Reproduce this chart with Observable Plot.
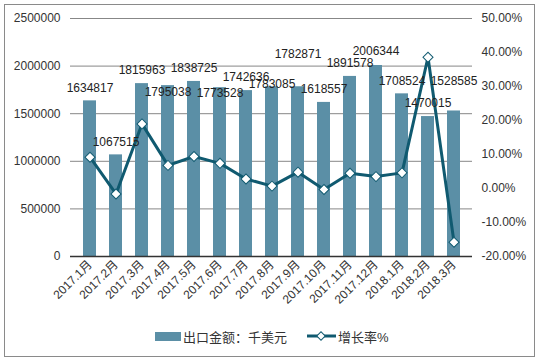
<!DOCTYPE html>
<html>
<head>
<meta charset="utf-8">
<script src="https://cdn.jsdelivr.net/npm/d3@7"></script>
<script src="https://cdn.jsdelivr.net/npm/@observablehq/plot@0.6"></script>
<style>
  html, body { margin: 0; padding: 0; background: #fff; }
  #wrap { position: relative; width: 538px; height: 363px; overflow: hidden; font-family: "Liberation Sans", Arial, "Noto Sans CJK SC", sans-serif; }
  #wrap > .layer { position: absolute; left: 0; top: 0; }
  #frame { position: absolute; left: 4px; top: 4px; width: 529px; height: 351px; border: 1.5px solid #8a8a8a; }
  #legend { position: absolute; left: 155px; top: 327px; height: 18px; display: flex; align-items: center; font-size: 13px; color: #333; font-family: "Liberation Sans", "Noto Sans CJK SC", sans-serif; }
  .sw { display: inline-block; width: 26px; height: 9px; background: #5b8fa6; margin-right: 2px; }
</style>
</head>
<body>
<div id="wrap">
  <div id="frame"></div>
</div>
<script>
// ---- data ----
const months = ["2017.1月","2017.2月","2017.3月","2017.4月","2017.5月","2017.6月","2017.7月","2017.8月","2017.9月","2017.10月","2017.11月","2017.12月","2018.1月","2018.2月","2018.3月"];
const exportAmounts = [1634817,1067515,1815963,1795038,1838725,1773528,1742636,1783085,1782871,1618557,1891578,2006344,1708524,1470015,1528585];
const growthRates = [9.2,-1.6,19.0,6.8,9.4,7.4,2.8,0.7,4.8,-0.3,4.5,3.5,4.6,38.6,-15.8];
const amountTicks = [0,500000,1000000,1500000,2000000,2500000];
const growthTicks = [-20,-10,0,10,20,30,40,50];
const seriesNames = ["出口金额：千美元","增长率%"];
// layout: vertical offsets of data labels (px), as placed in the original
const labelShift = [-12.5,-13,-13,7,-13,5,-13,-3,-33,-13,-13,-14,-13,-13,-29.5];

const rows = months.map((m, i) => ({month: m, amount: exportAmounts[i], growth: growthRates[i], i}));

const barColor = "#5b8fa6";
const lineColor = "#105a70";
const font = '"Liberation Sans", Arial, "Noto Sans CJK SC", sans-serif';

const base = {
  width: 538, height: 363,
  marginTop: 18, marginBottom: 107, marginLeft: 70, marginRight: 66,
  style: {fontFamily: font, fontSize: "12px", color: "#333", background: "transparent", overflow: "visible"}
};
const xScale = {type: "band", domain: months, paddingInner: 0.5, paddingOuter: 0.25};

// Layer 1: grid, bars, left axis, x axis
const p1 = Plot.plot({
  ...base,
  x: xScale,
  y: {domain: [0, 2500000]},
  marks: [
    Plot.ruleY(amountTicks.filter(d => d > 0), {stroke: "#878787", strokeWidth: 1}),
    Plot.barY(rows, {x: "month", y: "amount", fill: barColor}),
    Plot.ruleY([0], {stroke: "#333", strokeWidth: 1.5}),
    Plot.axisY(amountTicks, {tickSize: 0, tickPadding: 10, fontSize: 12, tickFormat: d => String(d), label: null}),
    Plot.axisX({tickRotate: -45, tickSize: 0, tickPadding: 6, fontSize: 12, label: null})
  ]
});

// Layer 2: growth line with right axis
const p2 = Plot.plot({
  ...base,
  x: {...xScale, axis: null},
  y: {domain: [-20, 50]},
  marks: [
    Plot.line(rows, {x: "month", y: "growth", stroke: lineColor, strokeWidth: 3}),
    Plot.dot(rows, {x: "month", y: "growth", symbol: "square", rotate: 45, r: 4, fill: "#fff", stroke: lineColor, strokeWidth: 1}),
    Plot.axisY(growthTicks, {anchor: "right", tickSize: 0, tickPadding: 9, fontSize: 12, tickFormat: d => d.toFixed(2) + "%", label: null})
  ]
});

// Layer 3: data labels on top
const p3 = Plot.plot({
  ...base,
  x: {...xScale, axis: null},
  y: {domain: [0, 2500000], axis: null},
  marks: rows.map((r, i) => Plot.text([r], {x: "month", y: "amount", text: d => String(d.amount), dy: labelShift[i], fontSize: 12, fill: "#222"}))
});

const wrap = document.getElementById("wrap");
for (const p of [p1, p2, p3]) { p.classList.add("layer"); wrap.appendChild(p); }

// Legend
const lg = document.createElement("div");
lg.id = "legend";
lg.innerHTML = `<span class="sw"></span><span>${seriesNames[0]}</span>` +
  `<svg width="29" height="10" style="margin-left:20px;margin-right:2px"><line x1="0" y1="5" x2="29" y2="5" stroke="${lineColor}" stroke-width="3"/>` +
  `<rect x="11" y="2" width="6" height="6" transform="rotate(45 14 5)" fill="#fff" stroke="${lineColor}" stroke-width="1"/></svg>` +
  `<span>${seriesNames[1]}</span>`;
wrap.appendChild(lg);
</script>
</body>
</html>
